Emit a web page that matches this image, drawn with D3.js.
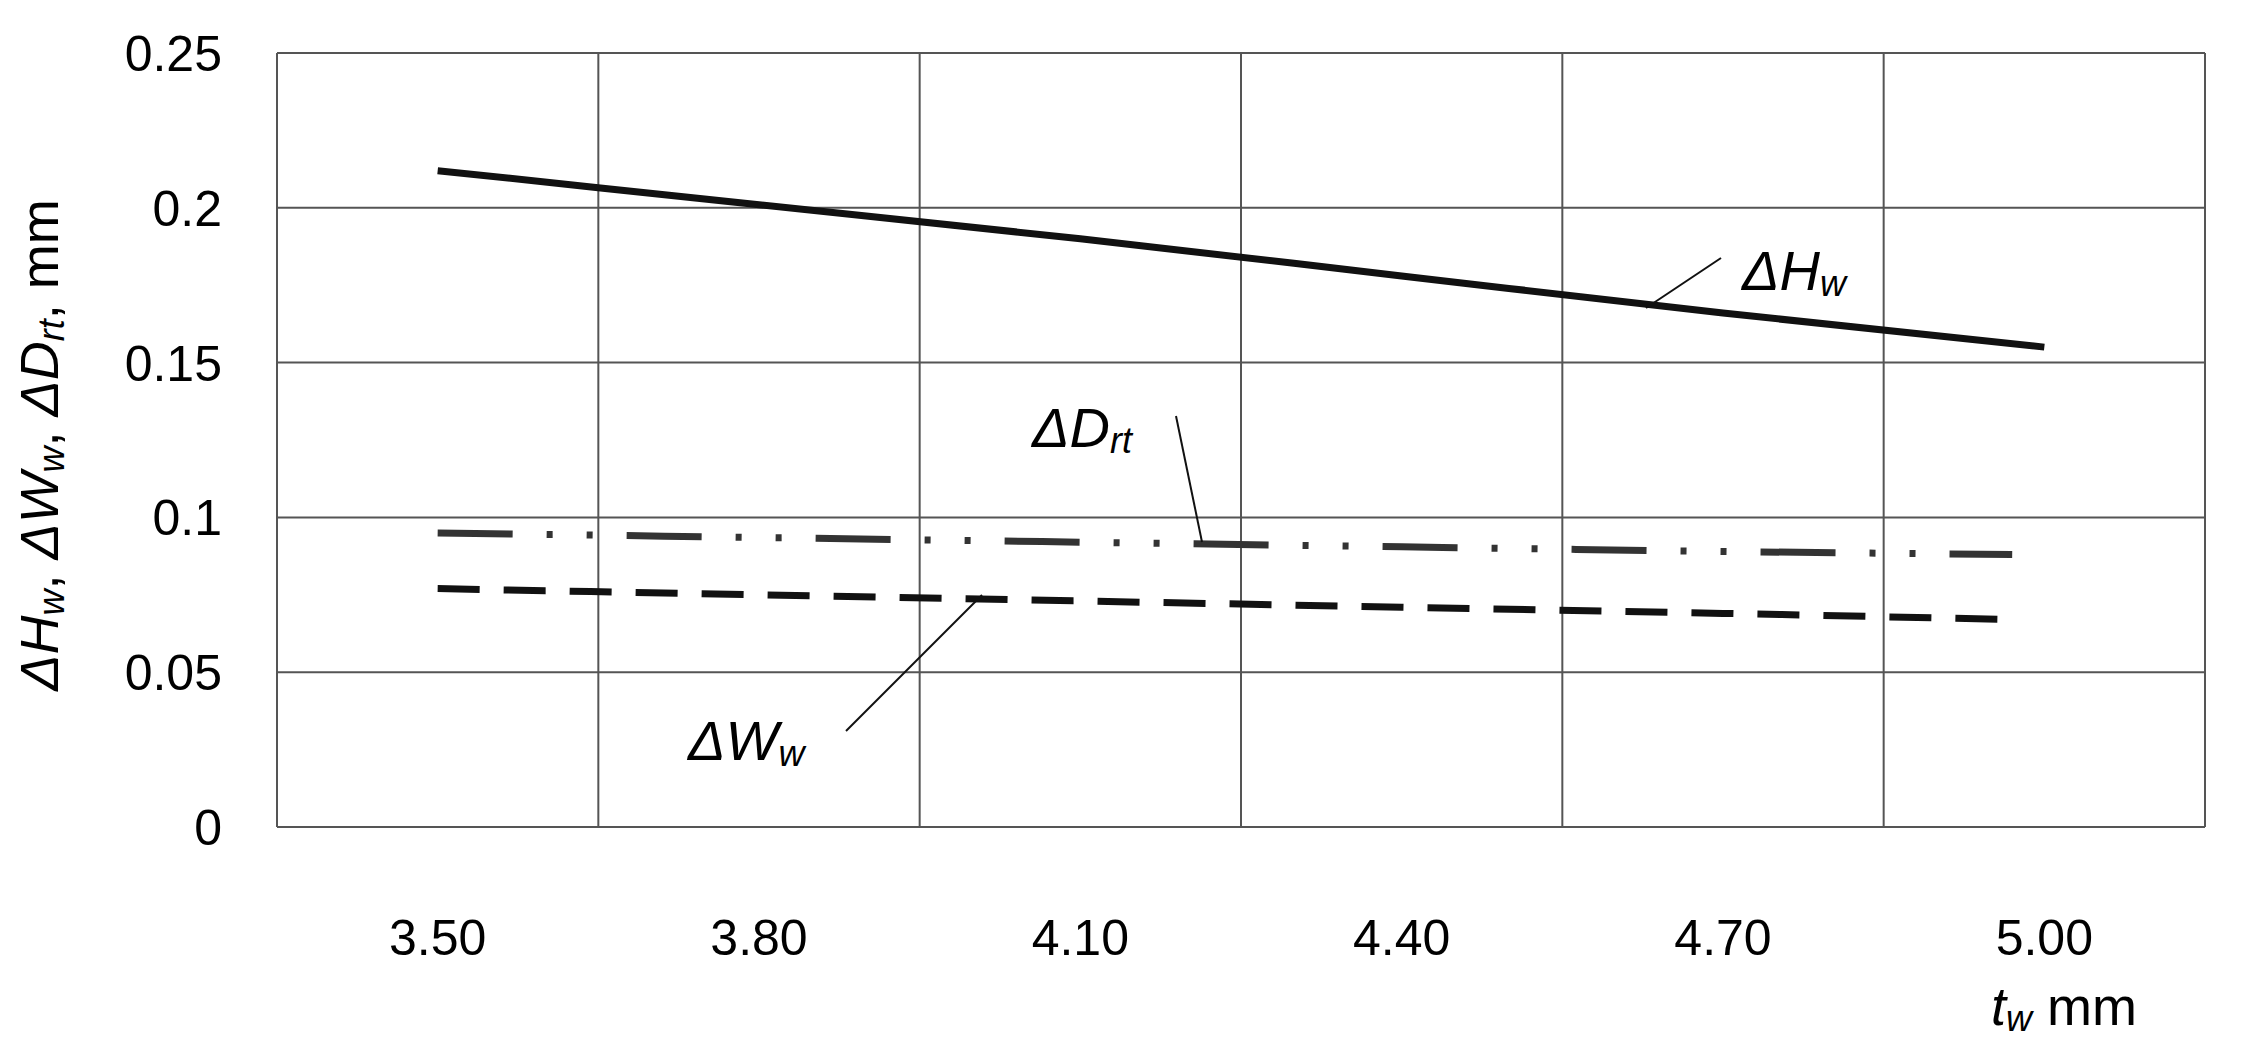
<!DOCTYPE html>
<html><head><meta charset="utf-8">
<script src="https://cdn.jsdelivr.net/npm/d3@7"></script>
<style>body{margin:0;background:#fff}text{font-family:"Liberation Sans",Arial,sans-serif}</style>
</head><body>
<script>
const tw = [3.50, 3.80, 4.10, 4.40, 4.70, 5.00];
const twEnd = [3.50, 3.80, 4.10, 4.40, 4.70, 4.97];
const dHw = [0.212, 0.201, 0.190, 0.178, 0.166, 0.155];
const dDrt = [0.095, 0.0935, 0.092, 0.0905, 0.089, 0.088];
const dWw = [0.077, 0.075, 0.073, 0.071, 0.069, 0.067];
const xTickLabels = ['3.50', '3.80', '4.10', '4.40', '4.70', '5.00'];
const yTicks = [0, 0.05, 0.1, 0.15, 0.2, 0.25];

const W = 2248, H = 1048;
const m = {l: 277, r: 2205, t: 53, b: 827};
const svg = d3.select('body').append('svg').attr('width', W).attr('height', H);
const x = d3.scaleLinear().domain([3.35, 5.15]).range([m.l, m.r]);
const y = d3.scaleLinear().domain([0, 0.25]).range([m.b, m.t]);

// grid
const grid = svg.append('g').attr('stroke', '#555').attr('stroke-width', 2);
d3.range(3.35, 5.16, 0.3).forEach(v => grid.append('line')
  .attr('x1', x(v)).attr('x2', x(v)).attr('y1', m.t).attr('y2', m.b));
yTicks.forEach(v => grid.append('line')
  .attr('x1', m.l).attr('x2', m.r).attr('y1', y(v)).attr('y2', y(v)));

svg.append('g').selectAll('text').data(yTicks).join('text')
  .attr('x', 222).attr('y', d => y(d) + 18).attr('text-anchor', 'end')
  .attr('font-size', 50).text(d => d);
svg.append('g').selectAll('text').data(tw).join('text')
  .attr('x', d => x(d)).attr('y', 955).attr('text-anchor', 'middle')
  .attr('font-size', 50).text((d, i) => xTickLabels[i]);

const line = d3.line().x(d => x(d[0])).y(d => y(d[1])).curve(d3.curveMonotoneX);
svg.append('path').datum(d3.zip(tw, dHw)).attr('d', line)
  .attr('fill', 'none').attr('stroke', '#111').attr('stroke-width', 7);
svg.append('path').datum(d3.zip(twEnd, dDrt)).attr('d', line)
  .attr('fill', 'none').attr('stroke', '#333').attr('stroke-width', 7)
  .attr('stroke-dasharray', '75 34 6 34 6 34');
svg.append('path').datum(d3.zip(twEnd, dWw)).attr('d', line)
  .attr('fill', 'none').attr('stroke', '#111').attr('stroke-width', 7)
  .attr('stroke-dasharray', '42 24');

// labels
function lab(tx, ty, main, sub) {
  const t = svg.append('text').attr('x', tx).attr('y', ty).attr('font-size', 56)
    .attr('font-style', 'italic');
  t.append('tspan').text(main);
  t.append('tspan').attr('font-size', 36).attr('dy', 6).text(sub);
}
lab(1742, 290, 'ΔH', 'w');
lab(1032, 447, 'ΔD', 'rt');
lab(688, 760, 'ΔW', 'w');
const lead = svg.append('g').attr('stroke', '#111').attr('stroke-width', 2);
[[1721, 258, 1646, 308], [1176, 416, 1202, 542], [846, 731, 982, 595]].forEach(p =>
  lead.append('line').attr('x1', p[0]).attr('y1', p[1]).attr('x2', p[2]).attr('y2', p[3]));

// axis titles
const yt = svg.append('text').attr('transform', 'translate(58,445) rotate(-90)')
  .attr('text-anchor', 'middle').attr('font-size', 54);
[['ΔH', 'w', ', '], ['ΔW', 'w', ', '], ['ΔD', 'rt', ', mm']].forEach(p => {
  yt.append('tspan').attr('font-style', 'italic').text(p[0]);
  yt.append('tspan').attr('font-style', 'italic').attr('font-size', 36).attr('dy', 6).text(p[1]);
  yt.append('tspan').attr('dy', -6).text(p[2]);
});
const xt = svg.append('text').attr('x', 2137).attr('y', 1025).attr('text-anchor', 'end')
  .attr('font-size', 54);
xt.append('tspan').attr('font-style', 'italic').text('t');
xt.append('tspan').attr('font-style', 'italic').attr('font-size', 36).attr('dy', 6).text('w');
xt.append('tspan').attr('dy', -6).text('  mm');
</script>
</body></html>
